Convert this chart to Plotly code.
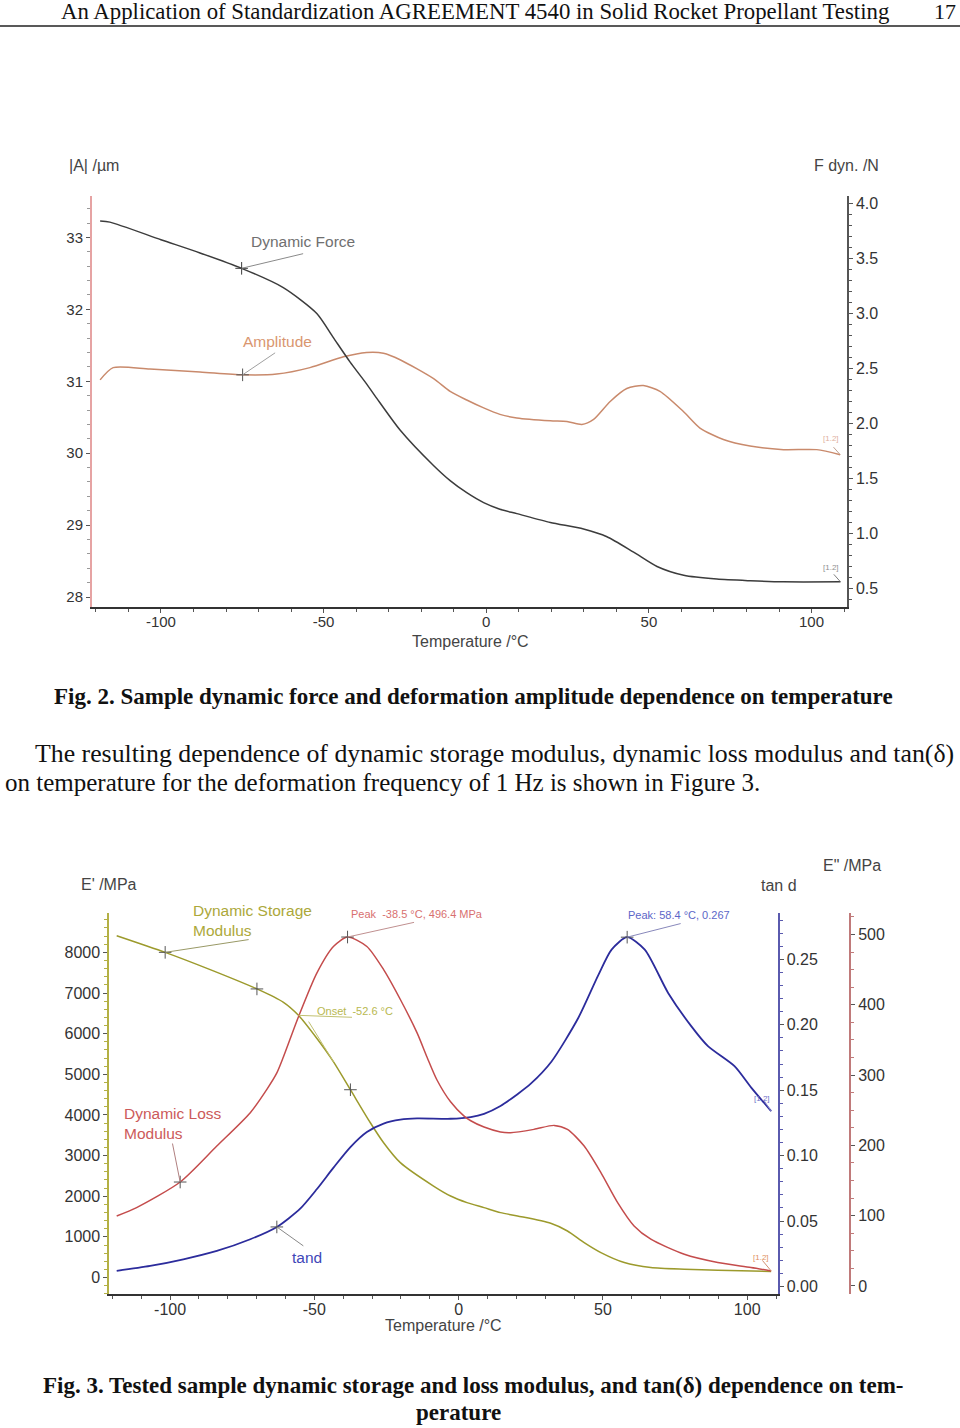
import plotly.graph_objects as go

W, H = 960, 1428
def px(x): return x / W
def py(y): return 1 - y / H

# ---------------- Figure 2 data ----------------
force_T = [-118.7, -115.7, -100.0, -88.0, -75.2, -62.4, -52.1, -47.0, -41.9, -36.8, -33.7,
           -26.5, -16.3, -11.1, -6.0, -0.8, 4.2, 9.4, 19.7, 29.9, 37.1, 45.3, 52.5, 60.7,
           70.9, 81.2, 91.4, 108.9]
force_F = [3.84, 3.83, 3.67, 3.55, 3.41, 3.235, 3.0, 2.78, 2.56, 2.36, 2.23,
           1.94, 1.62, 1.48, 1.37, 1.28, 1.22, 1.18, 1.10, 1.04, 0.97, 0.83, 0.70, 0.62,
           0.585, 0.57, 0.56, 0.56]
amp_T = [-118.7, -114.7, -103.4, -88.0, -74.9, -64.4, -54.2, -43.9, -36.8, -31.6, -26.5,
         -16.3, -11.1, -6.0, -0.8, 4.2, 9.4, 19.7, 24.8, 29.4, 33.0, 38.1, 43.2, 48.3,
         53.4, 60.6, 65.7, 72.9, 81.1, 91.4, 101.6, 108.8]
amp_A = [31.02, 31.19, 31.17, 31.13, 31.09, 31.10, 31.19, 31.34, 31.40, 31.39, 31.30,
         31.04, 30.86, 30.74, 30.63, 30.54, 30.49, 30.45, 30.44, 30.40, 30.47, 30.72, 30.90, 30.94,
         30.86, 30.58, 30.35, 30.19, 30.10, 30.05, 30.05, 29.98]
force_mark_T = [-75.2]
force_mark_F = [3.41]
amp_mark_T = [-74.9]
amp_mark_A = [31.09]
fig2_xticks = [-100, -50, 0, 50, 100]
fig2_xtick_text = ["-100", "-50", "0", "50", "100"]
fig2_yticks_A = [28, 29, 30, 31, 32, 33]
fig2_yticks_F = [0.5, 1.0, 1.5, 2.0, 2.5, 3.0, 3.5, 4.0]

# ---------------- Figure 3 data ----------------
stor_T = [-118.5, -101.7, -86.1, -69.9, -60.7, -55.5, -49.1, -43.3, -37.5, -30.6, -26.0,
          -20.2, -8.7, -2.8, 2.9, 8.8, 14.5, 20.4, 31.9, 37.7, 43.5, 49.3, 57.4, 66.6,
          78.2, 89.8, 108.3]
stor_E = [8410, 8000, 7575, 7100, 6770, 6450, 5880, 5300, 4620, 3808, 3317,
          2826, 2250, 2005, 1843, 1720, 1597, 1514, 1334, 1145, 860, 614, 369, 246,
          204, 180, 147]
loss_T = [-118.5, -111.6, -96.5, -83.8, -72.2, -66.4, -63.0, -60.7, -55.5, -49.1, -43.3,
          -38.5, -31.8, -26.0, -20.2, -14.4, -10.9, -7.5, -2.8, 1.8, 4.2, 8.8, 14.5, 18.0,
          26.1, 33.1, 37.7, 43.5, 49.3, 55.1, 60.8, 66.6, 78.2, 89.8, 101.3, 108.3]
loss_E = [99.5, 111.4, 147.8, 199, 246.5, 280, 303, 326, 383, 445.5, 483.3,
          496.4, 483, 450, 407.5, 360, 325, 293, 262, 242, 235, 226, 219, 218,
          222.7, 228.4, 222.7, 199, 161.2, 118.5, 85.3, 66.4, 45, 33.3, 26.2, 21.3]
tan_T = [-118.5, -106.9, -95.4, -83.8, -72.2, -63.0, -54.9, -49.1, -43.3, -37.5, -31.8,
         -26.0, -20.2, -14.4, -2.8, 4.2, 8.8, 14.5, 20.4, 25.0, 32.2, 41.4, 48.4, 53.0,
         58.4, 64.5, 72.6, 80.6, 86.4, 95.6, 101.4, 108.3]
tan_v = [0.0119, 0.0157, 0.0208, 0.0272, 0.0361, 0.0455, 0.0595, 0.0745, 0.091, 0.1065, 0.118,
         0.1245, 0.1275, 0.1285, 0.1282, 0.1295, 0.132, 0.138, 0.147, 0.155, 0.172, 0.205,
         0.238, 0.2575, 0.267, 0.2575, 0.2244, 0.199, 0.1837, 0.1684, 0.152, 0.134]
stor_mark_T = [-101.7, -69.9, -37.5]
stor_mark_E = [8000, 7100, 4620]
loss_mark_T = [-96.5, -38.5]
loss_mark_E = [147.8, 496.4]
tan_mark_T = [-63.0, 58.4]
tan_mark_v = [0.0455, 0.267]
fig3_xticks = [-100, -50, 0, 50, 100]
fig3_xtick_text = ["-100", "-50", "0", "50", "100"]
fig3_yticks_E1 = [0, 1000, 2000, 3000, 4000, 5000, 6000, 7000, 8000]
fig3_yticks_tan = [0.00, 0.05, 0.10, 0.15, 0.20, 0.25]
fig3_yticks_E2 = [0, 100, 200, 300, 400, 500]

# ---------------- colours ----------------
C_FORCE = "#3c3c3c"
C_AMP = "#c98a6c"
C_AMP_TXT = "#d9966f"
C_AMP_AXIS = "#e6a3a3"
C_STOR = "#9c9a2c"
C_STOR_TXT = "#aca83a"
C_STOR_AXIS = "#b3b045"
C_LOSS = "#c44c4c"
C_LOSS_TXT = "#cc5a5a"
C_LOSS_AXIS = "#c07a7a"
C_TAN = "#2c2c9c"
C_TAN_TXT = "#4046b8"
C_TAN_AXIS = "#5a5aae"
C_TICK = "#333333"

SANS = "Liberation Sans, Arial, sans-serif"
SERIF = "Liberation Serif, Times New Roman, serif"

fig = go.Figure()

SPL = dict(shape="spline", smoothing=0.7)
# Figure 2 traces
fig.add_trace(go.Scatter(x=force_T, y=force_F, xaxis="x", yaxis="y2", mode="lines",
                         line=dict(color=C_FORCE, width=1.5, **SPL)))
fig.add_trace(go.Scatter(x=amp_T, y=amp_A, xaxis="x", yaxis="y", mode="lines",
                         line=dict(color=C_AMP, width=1.5, **SPL)))
fig.add_trace(go.Scatter(x=force_mark_T, y=force_mark_F, xaxis="x", yaxis="y2", mode="markers",
                         marker=dict(symbol="cross-thin", size=9, line=dict(color=C_FORCE, width=1))))
fig.add_trace(go.Scatter(x=amp_mark_T, y=amp_mark_A, xaxis="x", yaxis="y", mode="markers",
                         marker=dict(symbol="cross-thin", size=9, line=dict(color="#555555", width=1))))

# Figure 3 traces
fig.add_trace(go.Scatter(x=stor_T, y=stor_E, xaxis="x2", yaxis="y3", mode="lines",
                         line=dict(color=C_STOR, width=1.5, **SPL)))
fig.add_trace(go.Scatter(x=loss_T, y=loss_E, xaxis="x2", yaxis="y5", mode="lines",
                         line=dict(color=C_LOSS, width=1.5, **SPL)))
fig.add_trace(go.Scatter(x=tan_T, y=tan_v, xaxis="x2", yaxis="y4", mode="lines",
                         line=dict(color=C_TAN, width=1.8, **SPL)))
fig.add_trace(go.Scatter(x=stor_mark_T, y=stor_mark_E, xaxis="x2", yaxis="y3", mode="markers",
                         marker=dict(symbol="cross-thin", size=9, line=dict(color="#555555", width=1))))
fig.add_trace(go.Scatter(x=loss_mark_T, y=loss_mark_E, xaxis="x2", yaxis="y5", mode="markers",
                         marker=dict(symbol="cross-thin", size=9, line=dict(color="#555555", width=1))))
fig.add_trace(go.Scatter(x=tan_mark_T, y=tan_mark_v, xaxis="x2", yaxis="y4", mode="markers",
                         marker=dict(symbol="cross-thin", size=9, line=dict(color="#555555", width=1))))

def axis_common(linecolor, lw=1.5, fs=15):
    return dict(showline=True, linecolor=linecolor, linewidth=lw, showgrid=False, zeroline=False,
                ticks="outside", ticklen=4, tickcolor="#555555", tickwidth=1,
                tickfont=dict(family=SANS, size=fs, color=C_TICK))

layout = dict(
    width=W, height=H, margin=dict(l=0, r=0, t=0, b=0),
    paper_bgcolor="white", plot_bgcolor="white", showlegend=False,
    xaxis=dict(domain=[px(92), px(847)], anchor="y", range=[-121.2, 110.9],
               tickvals=fig2_xticks, ticktext=fig2_xtick_text, ticklabelstandoff=-4,
               minor=dict(dtick=10, ticks="outside", ticklen=3, tickcolor="#555555"),
               **axis_common("#333333", 1.5, 15)),
    yaxis=dict(domain=[py(607), py(195)], anchor="x", range=[27.86, 33.58],
               tickvals=fig2_yticks_A, minor=dict(dtick=0.2, ticks="outside", ticklen=3, tickcolor="#999999"),
               **axis_common(C_AMP_AXIS, 2, 15)),
    yaxis2=dict(overlaying="y", side="right", anchor="x", range=[0.33, 4.07],
                tickvals=fig2_yticks_F, tickformat=".1f",
                minor=dict(dtick=0.1, ticks="outside", ticklen=3, tickcolor="#555555"),
                **axis_common("#555555", 1.5, 16)),
    xaxis2=dict(domain=[px(109.3), px(777.5)], anchor="y3", range=[-121.06, 110.5],
                tickvals=fig3_xticks, ticktext=fig3_xtick_text, ticklabelstandoff=-4,
                minor=dict(dtick=10, ticks="outside", ticklen=3, tickcolor="#555555"),
                **axis_common("#333333", 1.5, 16)),
    yaxis3=dict(domain=[py(1295), py(913)], anchor="x2", range=[-410, 8975],
                tickvals=fig3_yticks_E1, minor=dict(dtick=200, ticks="outside", ticklen=3, tickcolor=C_STOR_AXIS),
                **axis_common(C_STOR_AXIS, 2, 16)),
    yaxis4=dict(overlaying="y3", side="right", anchor="x2", range=[-0.0059, 0.2857],
                tickvals=fig3_yticks_tan, tickformat=".2f",
                minor=dict(dtick=0.01, ticks="outside", ticklen=3, tickcolor=C_TAN_AXIS),
                **axis_common(C_TAN_AXIS, 2, 16)),
    yaxis5=dict(overlaying="y3", side="right", anchor="free", position=px(850), range=[-11.8, 531],
                tickvals=fig3_yticks_E2,
                minor=dict(dtick=25, ticks="outside", ticklen=3, tickcolor=C_LOSS_AXIS),
                **axis_common(C_LOSS_AXIS, 2, 16)),
)
fig.update_layout(**layout)

ann = []
def text(x, y, s, size=15, color="#444444", family=SANS, xanchor="left", align="left"):
    ann.append(dict(xref="paper", yref="paper", x=px(x), y=py(y), text=s, showarrow=False,
                    xanchor=xanchor, yanchor="middle", align=align,
                    font=dict(family=family, size=size, color=color)))

def leader(xv, yv, xref, yref, ax, ay, color):
    ann.append(dict(xref=xref, yref=yref, x=xv, y=yv, text="", showarrow=True, arrowhead=0,
                    arrowwidth=1, arrowcolor=color, ax=ax, ay=ay, standoff=0, startstandoff=0))

# page header
text(59, 11, "An Application of Standardization AGREEMENT 4540 in Solid Rocket Propellant Testing",
     size=22.8, color="#111111", family=SERIF)
text(945, 11, "17", size=22, color="#111111", family=SERIF, xanchor="center")

# figure 2 axis titles
text(67, 165, "|A| /µm", size=16, color="#444444")
text(881, 165, "F dyn. /N", size=16, color="#444444", xanchor="right")
text(470, 641, "Temperature /°C", size=16, color="#444444", xanchor="center")
# figure 2 curve labels
text(303, 241, "Dynamic Force", size=15.5, color="#707070", xanchor="center")
text(277, 341, "Amplitude", size=15.5, color=C_AMP_TXT, xanchor="center")
text(831, 438, "[1.2]", size=8, color="#e0b0a0", xanchor="center")
text(831, 567, "[1.2]", size=8, color="#909090", xanchor="center")
leader(force_mark_T[0], force_mark_F[0], "x", "y2", 63, -15, "#8a8a8a")
leader(amp_mark_T[0], amp_mark_A[0], "x", "y", 34, -23, "#a0a0a0")
leader(amp_T[-1], amp_A[-1], "x", "y", -8, -9, "#c0a090")
leader(force_T[-1], force_F[-1], "x", "y2", -8, -9, "#808080")

# captions and paragraph
text(473, 696, "<b>Fig. 2. Sample dynamic force and deformation amplitude dependence on temperature</b>",
     size=23, color="#111111", family=SERIF, xanchor="center")
text(33, 754, "The resulting dependence of dynamic storage modulus, dynamic loss modulus and tan(δ)",
     size=25.8, color="#111111", family=SERIF)
text(3, 783, "on temperature for the deformation frequency of 1 Hz is shown in Figure 3.",
     size=25, color="#111111", family=SERIF)

# figure 3 axis titles
text(79, 885, "E' /MPa", size=16, color="#444444")
text(759, 886, "tan d", size=16, color="#444444")
text(821, 866, "E\" /MPa", size=16, color="#444444")
text(443, 1326, "Temperature /°C", size=16, color="#444444", xanchor="center")

# figure 3 curve labels
text(191, 921, "Dynamic Storage<br>Modulus", size=15.5, color=C_STOR_TXT)
text(349, 914, "Peak  -38.5 °C, 496.4 MPa", size=11, color="#d87070")
text(315, 1011, "Onset  -52.6 °C", size=11, color="#b8b850")
text(626, 915, "Peak: 58.4 °C, 0.267", size=11, color="#5c66c8")
text(122, 1124, "Dynamic Loss<br>Modulus", size=15.5, color=C_LOSS_TXT)
text(290, 1258, "tand", size=15.5, color=C_TAN_TXT)
text(762, 1099, "[1.2]", size=8, color="#6c70c8", xanchor="center")
text(761, 1258, "[1.2]", size=8, color="#e09060", xanchor="center")

leader(stor_mark_T[0], stor_mark_E[0], "x2", "y3", 85, -13, "#999966")
leader(loss_mark_T[1], loss_mark_E[1], "x2", "y5", 68, -15, "#c09090")
leader(tan_mark_T[1], tan_mark_v[1], "x2", "y4", 55, -14, "#8888bb")
leader(loss_mark_T[0], loss_mark_E[0], "x2", "y5", -8, -40, "#b08080")
leader(tan_mark_T[0], tan_mark_v[0], "x2", "y4", 28, 20, "#888888")
leader(stor_T[5], stor_E[5], "x2", "y3", 55, 2, "#c0c070")
leader(stor_T[7], stor_E[7], "x2", "y3", -26, -42, "#c0c070")
leader(tan_T[-1], tan_v[-1], "x2", "y4", -8, -12, "#8888cc")
leader(loss_T[-1], loss_E[-1], "x2", "y5", -10, -12, "#d09070")

# figure 3 caption
text(473, 1386, "<b>Fig. 3. Tested sample dynamic storage and loss modulus, and tan(δ) dependence on tem-</b>",
     size=23, color="#111111", family=SERIF, xanchor="center")
text(458, 1413, "<b>perature</b>", size=23, color="#111111", family=SERIF, xanchor="center")

fig.update_layout(annotations=ann,
                  shapes=[dict(type="line", xref="paper", yref="paper", x0=0, x1=1, y0=py(25), y1=py(25),
                               line=dict(color="#222222", width=1.5))])

fig.write_html("out.html", config={"displayModeBar": False}, post_script=(
    "document.body.style.margin='0';"
    "document.body.style.overflow='hidden';"
    "document.documentElement.style.overflow='hidden';"))
